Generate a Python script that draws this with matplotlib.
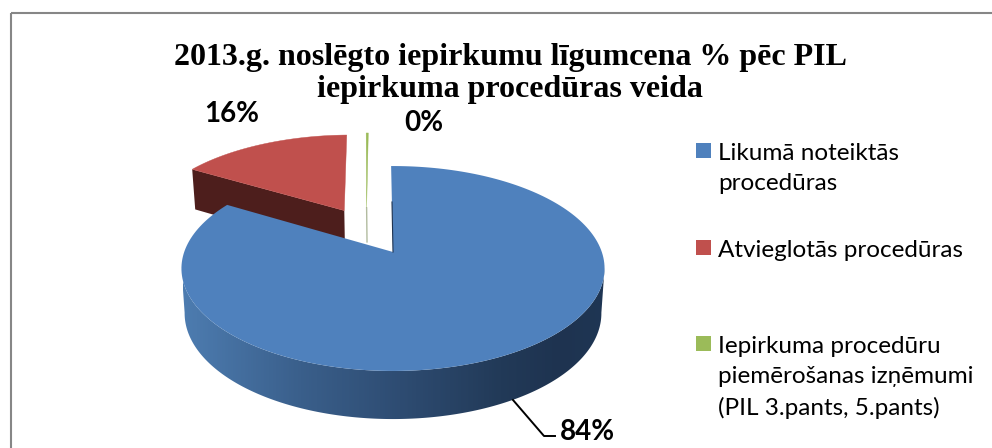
import numpy as np
from matplotlib import pyplot as plt
from matplotlib.colors import LinearSegmentedColormap
from matplotlib.patches import Polygon, Rectangle

title_lines = ["2013.g. noslēgto iepirkumu līgumcena % pēc PIL", "iepirkuma procedūras veida"]
labels = ["Likumā noteiktās\nprocedūras", "Atvieglotās procedūras",
          "Iepirkuma procedūru\npiemērošanas izņēmumi\n(PIL 3.pants, 5.pants)"]
values = [83.7, 16.1, 0.2]
pct_labels = ["84%", "16%", "0%"]
colors = ["#4f81bd", "#c0504d", "#9bbb59"]
wall_colors = ["#2e4c72", "#4d1e1c", "#7f8f60"]

# explode offsets on the unit disc, per slice
offsets = [(0.0, 0.0), (-0.25, 0.445), (-0.136, 0.476)]

CX, CY = 393, 252
A, K, R = 99.8, 0.161, 208.8


def project(x, y, depth=0.0):
    # perspective view of the disc, depth pushes the point down to the bottom face
    w = 1 + K * y
    sx = R * x / w
    sy = A * y / w
    if depth:
        sx = sx * 0.985
        sy = sy - (44 - 4.1 * y)
    return CX + sx, CY - sy


def wedge_xy(a0, a1, off):
    # angles are clockwise from 12 o'clock, in degrees
    t = np.radians(np.linspace(a0, a1, 200))
    x = np.concatenate([[0], np.sin(t)]) + off[0]
    y = np.concatenate([[0], np.cos(t)]) + off[1]
    return x, y


fig = plt.figure(figsize=(9.92, 4.48), dpi=100)
ax = fig.add_axes([0, 0, 1, 1])
ax.axis("off")

# chart frame, runs off the right and bottom of the picture
ax.add_patch(Rectangle((10.5, 13.5), 1000, 450, fill=False, ec="#868686", lw=1.5))

edges = np.cumsum([0] + values) / sum(values) * 360 - 0.6

# red wall, only the edge towards the viewer shows
a = np.radians(edges[1])
ox, oy = offsets[1]
px = np.array([ox, ox + np.sin(a)])
py = np.array([oy, oy + np.cos(a)])
x0, y0 = project(px, py)
x1, y1 = project(px, py, 1)
ax.fill(np.r_[x0, x1[::-1]], np.r_[y0, y1[::-1]], color=wall_colors[1], lw=0)

# green wall
ox, oy = offsets[2]
x0, y0 = project(ox, oy)
x1, y1 = project(ox, oy, 1)
ax.plot([x0, x1], [y0, y1 - 8], color=wall_colors[2], lw=1, alpha=0.6)

# top faces of the two exploded slices
for i in [1, 2]:
    x, y = wedge_xy(edges[i], edges[i + 1], offsets[i])
    sx, sy = project(x, y)
    ax.fill(sx, sy, color=colors[i], lw=0.3)

# blue side wall, shading runs left to right
grad_x = np.array([183, 300, 400, 500, 560, 606])
grad_c = ["#4d7cb0", "#3a5f8b", "#2e4c72", "#223a58", "#1e3350", "#1f3654"]
cmap = LinearSegmentedColormap.from_list("wall", list(zip((grad_x - 183) / (606 - 183), grad_c)))
t = np.radians(np.linspace(99, 261, 200))
x0, y0 = project(np.sin(t), np.cos(t))
x1, y1 = project(np.sin(t), np.cos(t), 1)
wall = Polygon(np.c_[np.r_[x0, x1[::-1]], np.r_[y0, y1[::-1]]], transform=ax.transData, fc="none", ec="none")
ax.add_patch(wall)
img = ax.imshow(np.linspace(0, 1, 424)[None, :], cmap=cmap, extent=(183, 607, 425, 260), aspect="auto", zorder=1.5)
img.set_clip_path(wall)

ax.set_xlim(0, 992)
ax.set_ylim(448, 0)

# blue top face
x, y = wedge_xy(edges[0], edges[1], offsets[0])
sx, sy = project(x, y)
ax.fill(sx, sy, color=colors[0], lw=0, zorder=2)
ax.plot([CX, CX - 1], [CY, CY - 50], color="#1f3350", lw=0.8, zorder=2)

# percentage labels
pct_font = dict(family="Lato", fontsize=20, fontweight="bold", color="black", va="center", ha="center", zorder=3)
ax.text(587, 432, pct_labels[0], **pct_font)
ax.text(232, 114, pct_labels[1], **pct_font)
ax.text(424, 123, pct_labels[2], **pct_font)
ax.plot([513, 544, 555], [400, 436, 436], color="black", lw=1.4, zorder=2.5)

# title, two separate lines
for line, ty in zip(title_lines, [57, 89]):
    ax.text(510, ty, line, family="Liberation Serif", fontweight="bold", fontsize=23,
            ha="center", va="center", zorder=3)

# legend
legend_y = [151, 248, 344]
for lab, col, ly in zip(labels, colors, legend_y):
    ax.add_patch(Rectangle((696, ly - 7.5), 15, 15, color=col, lw=0))
    ax.text(718, ly - 8, lab, family="Lato", fontsize=17.5, color="black", va="top", linespacing=1.55)

plt.savefig("out.png", dpi=100)
